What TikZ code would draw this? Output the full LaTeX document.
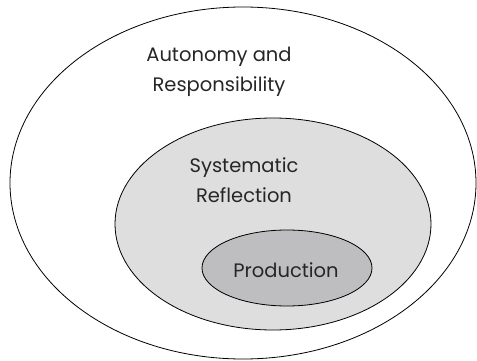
\documentclass[tikz,border=0pt]{standalone}
\usepackage{fontspec}
\setmainfont{Poppins}
\usepackage{tikz}
\usetikzlibrary{shapes}
\definecolor{midgray}{HTML}{DEDEDE}
\definecolor{darkgray}{HTML}{BEBEC0}
\tikzset{ring/.style={draw, ellipse, inner sep=0pt, line width=0.8pt},
lbl/.style={align=center, text=black!85, font=\fontsize{19.5}{30}\selectfont}}
\begin{document}
\begin{tikzpicture}[x=1pt, y=1pt]
\useasboundingbox (0,0) rectangle (477,360);

\draw(243,177) node[ring, minimum width=466, minimum height=352] (outer) {};
\draw(273,136) node[ring, fill=midgray, minimum width=316, minimum height=212] (middle) {};
\draw(287,92) node[ring, fill=darkgray, minimum width=170, minimum height=76] (inner) {};

\draw(219,288) node[lbl] (autonomy) {Autonomy and\\Responsibility};
\draw(244,180) node[lbl] (reflection) {Systematic\\Reflection};
\draw(286,90) node[lbl] (production) {Production};

\end{tikzpicture}
\end{document}
